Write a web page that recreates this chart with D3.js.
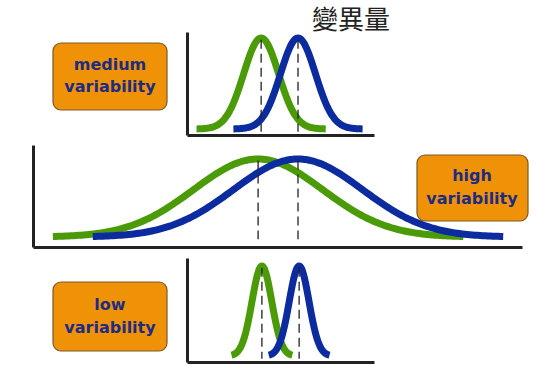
<!DOCTYPE html>
<html>
<head>
<meta charset="utf-8">
<script src="https://cdn.jsdelivr.net/npm/d3@7"></script>
<style>
  body { margin: 0; background: #fff; }
  svg { display: block; }
</style>
</head>
<body>
<div id="chart"></div>
<script>
// panels top to bottom
const panelNames = ["medium", "high", "low"];
const labelLines = [["medium", "variability"], ["high", "variability"], ["low", "variability"]];
// normal curves: means and spread in the shared x units
const greenMeans = [50.3, 49.5, 50.5];
const blueMeans = [60, 60, 60.3];
const sigmas = [4.6, 17, 2.6];
const halfSpans = [17, 54, 8];
const title = "變異量";

const W = 536, H = 365;
const green = "#4b9a08", blue = "#0b2b9e";

// layout of each panel (pixels)
const layout = [
  { ax0: 187, ax1: 374, top: 32, bottom: 135, base: 129, peak: 38, box: [53, 43, 114, 67], tx: 110, ty: [70, 92] },
  { ax0: 33, ax1: 522, top: 145, bottom: 247, base: 237, peak: 159, box: [417, 155, 111, 66], tx: 472, ty: [181, 204] },
  { ax0: 187, ax1: 374, top: 258, bottom: 362, base: 356, peak: 266, box: [53, 282, 114, 69], tx: 110, ty: [310, 333] }
];

const svg = d3.select("#chart").append("svg")
  .attr("width", W)
  .attr("height", H);

const x = d3.scaleLinear().domain([0, 100]).range([70, 450]);

function curve(mean, sd, span) {
  return d3.range(mean - span, mean + span + 0.001, span / 80)
    .map(v => [v, Math.exp(-0.5 * Math.pow((v - mean) / sd, 2))]);
}

panelNames.forEach((name, i) => {
  const L = layout[i];
  const y = d3.scaleLinear().domain([0, 1]).range([L.base, L.peak]);
  const g = svg.append("g").attr("class", "panel " + name);

  // axes: plain lines, no ticks
  const xa = d3.scaleLinear().range([L.ax0, L.ax1]);
  const ya = d3.scaleLinear().range([L.bottom, L.top]);
  g.append("g")
    .attr("transform", "translate(0," + L.bottom + ")")
    .call(d3.axisBottom(xa).tickValues([]).tickSizeOuter(0));
  g.append("g")
    .attr("transform", "translate(" + L.ax0 + ",0)")
    .call(d3.axisLeft(ya).tickValues([]).tickSizeOuter(0));
  g.selectAll(".domain")
    .attr("stroke", "#222")
    .attr("stroke-width", 3);

  const line = d3.line()
    .x(d => x(d[0]))
    .y(d => y(d[1]))
    .curve(d3.curveBasis);

  const series = [
    { mean: greenMeans[i], color: green },
    { mean: blueMeans[i], color: blue }
  ];

  g.selectAll("path.curve")
    .data(series)
    .enter().append("path")
      .attr("class", "curve")
      .attr("d", s => line(curve(s.mean, sigmas[i], halfSpans[i])))
      .attr("fill", "none")
      .attr("stroke", s => s.color)
      .attr("stroke-width", 7)
      .attr("stroke-linecap", "butt");

  // dashed mean lines
  g.selectAll("line.mean")
    .data(series)
    .enter().append("line")
      .attr("class", "mean")
      .attr("x1", s => x(s.mean))
      .attr("x2", s => x(s.mean))
      .attr("y1", y(0.98))
      .attr("y2", y(-0.03))
      .attr("stroke", "#222")
      .attr("stroke-width", 1.3)
      .attr("stroke-dasharray", "9,5");

  // orange label box
  g.append("rect")
    .attr("x", L.box[0])
    .attr("y", L.box[1])
    .attr("width", L.box[2])
    .attr("height", L.box[3])
    .attr("rx", 8)
    .attr("fill", "#ef9208")
    .attr("stroke", "#7a5a28")
    .attr("stroke-width", 1.2);

  g.selectAll("text.lbl")
    .data(labelLines[i])
    .enter().append("text")
      .attr("class", "lbl")
      .attr("x", L.tx)
      .attr("y", (d, j) => L.ty[j])
      .attr("text-anchor", "middle")
      .attr("font-family", "DejaVu Sans, sans-serif")
      .attr("font-weight", "bold")
      .attr("font-size", 16)
      .attr("fill", "#1d2c80")
      .text(d => d);
});

svg.append("text")
  .attr("x", 351)
  .attr("y", 29)
  .attr("text-anchor", "middle")
  .attr("font-family", "Noto Sans CJK TC, sans-serif")
  .attr("font-size", 26)
  .attr("fill", "#222")
  .text(title);
</script>
</body>
</html>
